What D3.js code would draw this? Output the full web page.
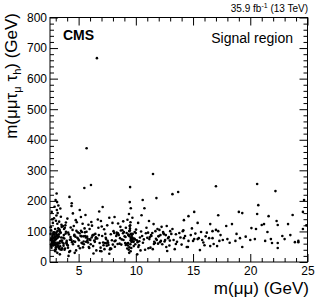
<!DOCTYPE html>
<html>
<head>
<meta charset="utf-8">
<script src="https://cdn.jsdelivr.net/npm/d3@7"></script>
<style>
  body { margin: 0; background: #fff; }
  svg text { font-family: "Liberation Sans", Arial, Helvetica, sans-serif; }
</style>
</head>
<body>
<div id="vis"></div>
<script>
// Scatter of m(mumu tau_mu tau_h) vs m(mumu), signal region (CMS style)

// Events, grouped by m(mumu) region: [m(mumu), m(mumu tau tau)]
var ptsJpsi = [[2.58,72],[2.83,95],[3.12,58],[2.65,164],[3.41,41],[2.96,83],[2.7,66],[3.22,110],[2.61,52],[3.05,77],[2.75,128],[3.33,61],[2.89,89],[3.56,45],[2.67,70],[3.15,101],[2.79,56],[2.85,143],[3.48,80],[2.99,64],[2.9,181],[2.56,92],[3.27,48],[2.92,73],[3.62,118],[2.73,60],[3.08,85],[2.96,35],[3.38,68],[2.6,104],[2.99,203],[3.19,54],[2.81,78],[3.44,96],[2.68,62],[3.02,135],[3.29,44],[2.87,71],[3.11,88],[2.59,57],[3.52,115],[2.77,67],[3.06,152],[3.24,82],[2.94,39],[2.64,74],[3.36,99],[3.08,224],[2.86,59],[3.14,125],[3.58,64],[2.72,86],[3.1,170],[3.01,48],[2.62,77],[3.31,107],[2.97,55],[2.78,92],[3.12,196],[3.46,69],[2.69,140],[3.14,30],[2.91,81],[3.21,62],[2.57,114],[3.03,75],[3.39,51],[2.84,97],[3.17,160],[2.74,66],[3.26,84],[3.0,42],[2.66,72],[3.5,122],[2.93,58],[3.07,90],[3.23,185],[2.8,65],[3.34,104],[2.63,47],[3.16,79],[2.88,61],[3.3,132],[3.55,70],[2.76,54],[3.04,95],[2.6,76],[3.36,25],[3.18,63],[2.95,108],[3.4,175],[2.71,83],[3.09,50],[3.45,148],[2.82,68],[3.28,91],[3.52,40],[2.98,74],[3.58,117],[3.13,59]];

var ptsLow = [[3.71,88],[4.38,183],[3.93,64],[5.21,102],[4.07,47],[3.66,79],[4.84,130],[4.51,58],[3.87,93],[5.03,71],[4.26,36],[3.79,112],[4.69,66],[5.41,84],[4.02,142],[3.68,53],[4.93,97],[4.33,74],[4.12,20],[5.31,61],[3.84,120],[4.2,213],[4.61,86],[5.12,45],[3.96,69],[4.47,105],[5.46,58],[4.15,90],[4.4,192],[3.75,77],[4.78,38],[5.26,63],[4.5,159],[3.9,99],[4.99,52],[4.29,82],[5.35,125],[4.55,68],[3.81,44],[5.08,94],[4.24,73],[4.75,137],[3.99,57],[5.17,86],[4.66,30],[3.73,108],[4.42,65],[4.89,79],[5.38,48],[4.09,96],[4.58,118],[3.95,61],[5.23,84],[5.1,170],[4.35,72],[3.77,40],[4.81,102],[5.2,147],[4.05,55],[4.63,89],[5.44,67],[3.89,129],[4.96,76],[4.18,33],[5.29,98],[3.69,60],[4.72,83],[4.31,113]];

var ptsMid = [[5.5,242],[6.37,70],[7.81,91],[5.93,46],[5.6,154],[8.62,78],[6.84,62],[5.7,372],[7.23,107],[5.57,85],[8.17,50],[6.11,131],[7.54,69],[8.88,94],[6.55,38],[5.79,76],[7.02,116],[8.41,59],[6.24,88],[7.68,145],[5.66,66],[6.08,252],[8.05,101],[6.92,47],[7.37,79],[5.86,122],[8.73,57],[6.46,92],[7.91,71],[6.3,28],[5.52,110],[7.14,64],[8.29,85],[6.68,139],[7.46,53],[8.96,98],[5.98,74],[6.6,667],[7.73,41],[8.51,88],[6.17,119],[7.29,62],[5.63,80],[6.8,165],[8.11,95],[7.61,56],[6.02,72],[8.82,104],[6.99,35],[5.74,83],[7.96,128],[6.42,66],[7.1,180],[8.36,91],[5.89,49],[7.4,75],[6.73,112],[8.58,60],[6.21,86],[7.85,43],[5.55,97],[8.23,70],[6.95,134],[7.18,55],[6.51,81],[8.69,103],[5.82,64],[7.68,27],[6.33,89],[8.92,72],[7.5,120],[6.06,58],[8.44,94],[6.63,77],[7.77,45],[5.96,108],[8.15,68],[7.06,85],[8.14,147],[6.27,52],[7.33,92],[8.77,74],[6.88,36],[5.69,99],[7.58,63],[8.45,126],[6.14,80],[7.99,57],[6.77,88],[8.65,115],[5.77,70],[7.26,42],[8.33,96],[6.49,76],[8.9,133],[7.42,61]];

var ptsUpsilon = [[9.02,84],[9.61,66],[9.13,112],[9.44,48],[9.86,77],[9.2,95],[9.52,58],[9.27,138],[10.08,71],[9.34,88],[9.55,35],[9.48,104],[9.07,62],[9.69,80],[9.4,157],[9.31,54],[9.58,92],[9.92,74],[9.46,118],[9.38,40],[10.3,68],[9.47,196],[9.64,86],[9.17,59],[9.5,245],[9.43,101],[9.75,76],[9.25,44],[9.53,130],[10.15,65],[9.36,90],[9.56,176],[9.82,52],[9.1,82],[9.49,110],[9.66,70],[9.42,30],[9.99,95],[9.29,61],[9.7,145],[9.57,78],[10.22,49],[9.39,87],[9.78,66],[9.51,120],[9.12,56],[9.9,98],[9.62,73],[10.41,38],[9.45,84],[10.02,106],[9.33,62],[9.73,92],[10.12,25],[9.54,71],[10.2,128],[9.95,58],[10.36,80],[9.6,46],[10.46,100],[9.8,67],[10.5,153],[10.55,85],[10.6,203],[10.27,55],[10.7,74],[10.75,176],[10.88,94],[10.62,63],[10.93,112],[10.81,40],[11.0,79]];

var ptsHigh = [[11.07,96],[12.31,58],[11.15,134],[11.83,72],[12.62,88],[11.28,47],[12.06,105],[11.61,66],[12.88,82],[11.5,288],[11.94,60],[11.55,124],[12.47,91],[11.18,75],[12.74,36],[11.71,101],[11.8,209],[12.19,69],[11.36,85],[12.93,54],[11.44,95],[12.0,85],[12.56,72],[11.1,45],[12.38,98],[11.67,62],[12.82,78],[12.25,115],[11.22,82],[12.11,65],[11.89,108],[12.66,49],[11.33,88],[12.97,70],[11.58,59],[12.42,94],[12.7,118],[11.76,76],[12.15,88],[11.48,42],[12.51,67],[11.98,84],[13.0,101]];

var ptsTail = [[13.1,92],[13.2,108],[13.2,222],[13.3,72],[13.4,42],[13.5,91],[13.5,59],[13.6,66],[13.7,229],[13.8,95],[13.9,80],[14.0,57],[14.1,101],[14.15,104],[14.2,137],[14.2,78],[14.3,85],[14.45,49],[14.55,49],[14.6,150],[14.6,69],[14.8,88],[14.9,110],[15.0,69],[15.1,75],[15.1,164],[15.2,93],[15.4,128],[15.4,75],[15.5,78],[15.6,39],[15.7,98],[15.8,72],[15.9,64],[16.0,55],[16.1,84],[16.2,96],[16.4,78],[16.5,124],[16.5,52],[16.7,101],[16.7,78],[16.8,59],[17.0,105],[17.0,248],[17.1,52],[17.2,101],[17.2,153],[17.3,69],[17.4,88],[17.6,72],[17.9,118],[18.0,75],[18.2,63],[18.4,124],[18.7,69],[18.8,92],[19.0,164],[19.1,78],[19.3,160],[19.3,49],[19.6,83],[20.0,72],[20.1,111],[20.4,75],[20.5,108],[20.6,255],[20.6,157],[20.7,186],[21.0,121],[21.2,124],[21.3,69],[21.5,98],[21.6,150],[21.8,75],[21.9,62],[22.2,232],[22.3,134],[22.4,121],[22.4,62],[22.4,46],[22.8,85],[23.0,75],[23.3,124],[23.5,88],[23.7,154],[23.9,65],[24.2,69],[24.2,65],[24.6,164],[24.6,108],[24.7,203],[24.9,120]];

// axis ticks
var xMajor = [5,10,15,20,25];
var yMajor = [0,100,200,300,400,500,600,700,800];

var width = 315, height = 302,
    margin = {top: 17.5, right: 7.5, bottom: 40, left: 50};
var w = width - margin.left - margin.right,
    h = height - margin.top - margin.bottom;

var allPts = ptsJpsi.concat(ptsLow, ptsMid, ptsUpsilon, ptsHigh, ptsTail);

var xScale = d3.scaleLinear().domain([2.5, 25]).range([0, w]),
    yScale = d3.scaleLinear().domain([0, 800]).range([h, 0]);

var svg = d3.select('#vis').append('svg')
    .attr('width', width)
    .attr('height', height);

var g = svg.append('g')
    .attr('transform', 'translate(' + margin.left + ',' + margin.top + ')');

// minor ticks: every 1 GeV on x, every 20 GeV on y
var xMinor = d3.range(3, 25.01, 1).filter(function(v){ return xMajor.indexOf(v) < 0; });
var yMinor = d3.range(20, 800, 20).filter(function(v){ return v % 100 !== 0; });

function styleAxis(sel){
    sel.select('.domain').remove();
    sel.selectAll('line').attr('stroke', '#000').attr('stroke-width', 1);
    sel.selectAll('text')
        .attr('fill', '#000')
        .style('font-size', '12px')
        .style('font-family', '"Liberation Sans", Arial, sans-serif');
}

// bottom + top
g.append('g').attr('transform', 'translate(0,' + h + ')')
    .call(d3.axisBottom(xScale).tickValues(xMajor).tickSize(-8).tickPadding(4).tickFormat(d3.format('d')))
    .call(styleAxis);
g.append('g').attr('transform', 'translate(0,' + h + ')')
    .call(d3.axisBottom(xScale).tickValues(xMinor).tickSize(-4).tickFormat(''))
    .call(styleAxis);
g.append('g')
    .call(d3.axisTop(xScale).tickValues(xMajor).tickSize(-8).tickFormat(''))
    .call(styleAxis);
g.append('g')
    .call(d3.axisTop(xScale).tickValues(xMinor).tickSize(-4).tickFormat(''))
    .call(styleAxis);

// left + right
g.append('g')
    .call(d3.axisLeft(yScale).tickValues(yMajor).tickSize(-8).tickPadding(3).tickFormat(d3.format('d')))
    .call(styleAxis);
g.append('g')
    .call(d3.axisLeft(yScale).tickValues(yMinor).tickSize(-4).tickFormat(''))
    .call(styleAxis);
g.append('g').attr('transform', 'translate(' + w + ',0)')
    .call(d3.axisRight(yScale).tickValues(yMajor).tickSize(-8).tickFormat(''))
    .call(styleAxis);
g.append('g').attr('transform', 'translate(' + w + ',0)')
    .call(d3.axisRight(yScale).tickValues(yMinor).tickSize(-4).tickFormat(''))
    .call(styleAxis);

// frame
g.append('rect')
    .attr('x', 0).attr('y', 0)
    .attr('width', w).attr('height', h)
    .attr('fill', 'none')
    .attr('stroke', '#000')
    .attr('stroke-width', 1);

// the events
g.append('g').selectAll('circle')
    .data(allPts)
    .enter().append('circle')
    .attr('cx', function(d){ return xScale(d[0]); })
    .attr('cy', function(d){ return yScale(d[1]); })
    .attr('r', 1.3)
    .attr('fill', '#000');

// labels
svg.append('text')
    .attr('x', 63).attr('y', 40)
    .style('font-size', '14px').style('font-weight', 'bold')
    .text('CMS');

svg.append('text')
    .attr('x', 293).attr('y', 43)
    .attr('text-anchor', 'end')
    .style('font-size', '14px')
    .text('Signal region');

var lumi = svg.append('text')
    .attr('x', 308).attr('y', 12)
    .attr('text-anchor', 'end')
    .style('font-size', '10px');
lumi.append('tspan').text('35.9 fb');
lumi.append('tspan').attr('dy', -4).style('font-size', '7px').text('-1');
lumi.append('tspan').attr('dy', 4).text(' (13 TeV)');

svg.append('text')
    .attr('x', 309).attr('y', 294)
    .attr('text-anchor', 'end')
    .style('font-size', '17px')
    .text('m(\u03bc\u03bc) (GeV)');

var yTitle = svg.append('text')
    .attr('transform', 'translate(17,13) rotate(-90)')
    .attr('text-anchor', 'end')
    .style('font-size', '17px');
yTitle.append('tspan').text('m(\u03bc\u03bc\u03c4');
yTitle.append('tspan').attr('dy', 4).style('font-size', '11px').text('\u03bc');
yTitle.append('tspan').attr('dy', -4).text(' \u03c4');
yTitle.append('tspan').attr('dy', 4).style('font-size', '11px').text('h');
yTitle.append('tspan').attr('dy', -4).text(') (GeV)');
</script>
</body>
</html>
